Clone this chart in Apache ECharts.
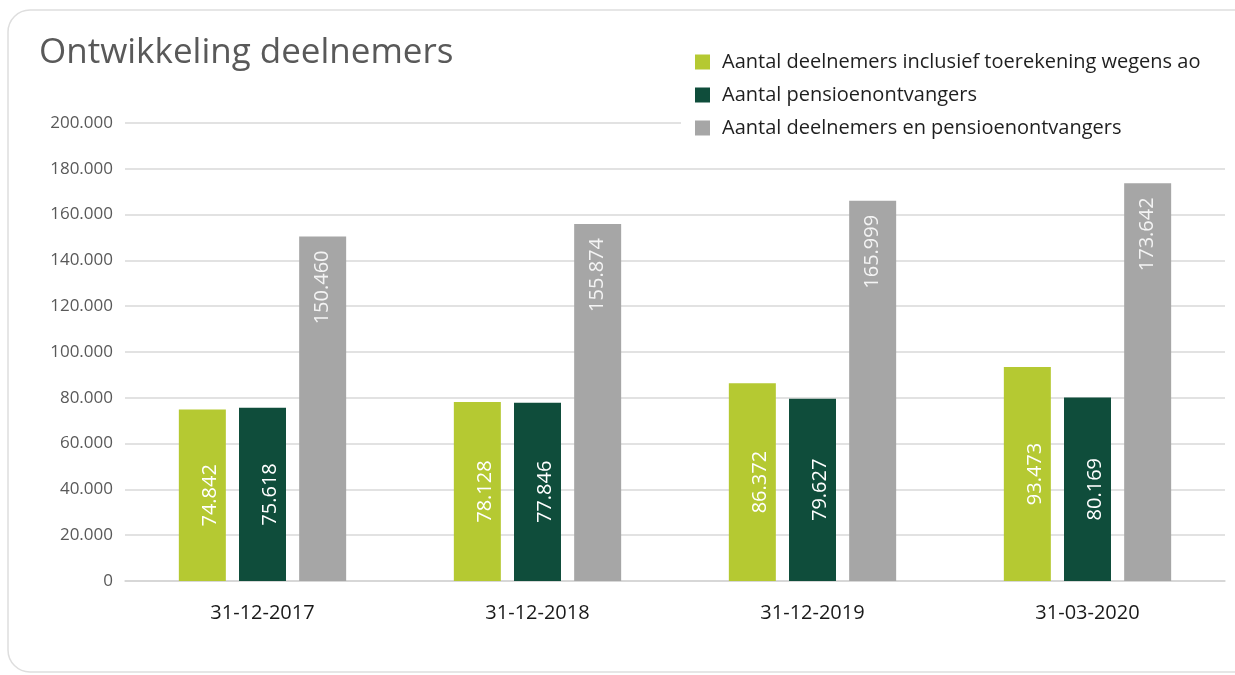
<!DOCTYPE html>
<html>
<head>
<meta charset="utf-8">
<script src="https://cdn.jsdelivr.net/npm/echarts@6/dist/echarts.min.js"></script>
<style>
  html, body { margin: 0; padding: 0; background: #fff; }
  #main { width: 1235px; height: 675px; }
</style>
</head>
<body>
<div id="main"></div>
<script>
// data
var categories = ['31-12-2017', '31-12-2018', '31-12-2019', '31-03-2020'];
var seriesNames = [
  'Aantal deelnemers inclusief toerekening wegens ao',
  'Aantal pensioenontvangers',
  'Aantal deelnemers en pensioenontvangers'
];
var deelnemers = [74842, 78128, 86372, 93473];
var pensioenontvangers = [75618, 77846, 79627, 80169];
var totaal = [150460, 155874, 165999, 173642];
var colors = ['#b5c932', '#0f4d3b', '#a6a6a6'];

// 12345 -> 12.345
function fmt(v) {
  return String(Math.round(v)).replace(/\B(?=(\d{3})+(?!\d))/g, '.');
}

var font = '"Open Sans", Lato, sans-serif';

function barSeries(name, data, color, pos) {
  var label = {
    show: true,
    rotate: 90,
    color: '#ffffff',
    fontSize: 20,
    fontFamily: font,
    formatter: function (p) { return fmt(p.value); }
  };
  if (pos === 'top') {
    label.position = 'insideTop';
    label.align = 'right';
    label.verticalAlign = 'middle';
    label.distance = 14;
    label.color = '#f4f4f4';
  } else {
    label.position = 'inside';
    label.align = 'center';
    label.verticalAlign = 'middle';
    label.offset = [0, 8];
  }
  return {
    name: name,
    type: 'bar',
    data: data,
    barWidth: 47,
    barGap: '28%',
    itemStyle: { color: color },
    label: label
  };
}

var chart = echarts.init(document.getElementById('main'));
chart.setOption({
  backgroundColor: '#ffffff',
  animation: false,
  graphic: [{
    type: 'rect',
    shape: { x: 8, y: 10, width: 1260, height: 662, r: 22 },
    style: { fill: 'none', stroke: '#dedede', lineWidth: 1.5 },
    z: -10
  }],
  title: {
    text: 'Ontwikkeling deelnemers',
    left: 34,
    top: 31,
    textStyle: { color: '#595959', fontSize: 35, fontWeight: 'normal', fontFamily: font }
  },
  legend: {
    orient: 'vertical',
    left: 681,
    top: 52,
    itemWidth: 15,
    itemHeight: 15,
    itemGap: 13,
    icon: 'rect',
    backgroundColor: '#ffffff',
    padding: [0, 50, 0, 14],
    textStyle: { color: '#1f1f1f', fontSize: 20, fontFamily: font, padding: [0, 0, 0, 7] },
    data: seriesNames
  },
  grid: { left: 125, right: 10, top: 123, bottom: 94 },
  xAxis: {
    type: 'category',
    data: categories,
    axisTick: { show: false },
    axisLine: { lineStyle: { color: '#d4d4d4', width: 1.5 } },
    axisLabel: { color: '#1a1a1a', fontSize: 20, margin: 22, fontFamily: font }
  },
  yAxis: {
    type: 'value',
    min: 0,
    max: 200000,
    interval: 20000,
    axisLine: { show: false },
    axisTick: { show: false },
    splitLine: { lineStyle: { color: '#d9d9d9', width: 1.5 } },
    axisLabel: {
      color: '#595959',
      fontSize: 17,
      margin: 12,
      fontFamily: font,
      formatter: function (v) { return fmt(v); }
    }
  },
  series: [
    barSeries(seriesNames[0], deelnemers, colors[0], 'mid'),
    barSeries(seriesNames[1], pensioenontvangers, colors[1], 'mid'),
    barSeries(seriesNames[2], totaal, colors[2], 'top')
  ]
});
</script>
</body>
</html>
